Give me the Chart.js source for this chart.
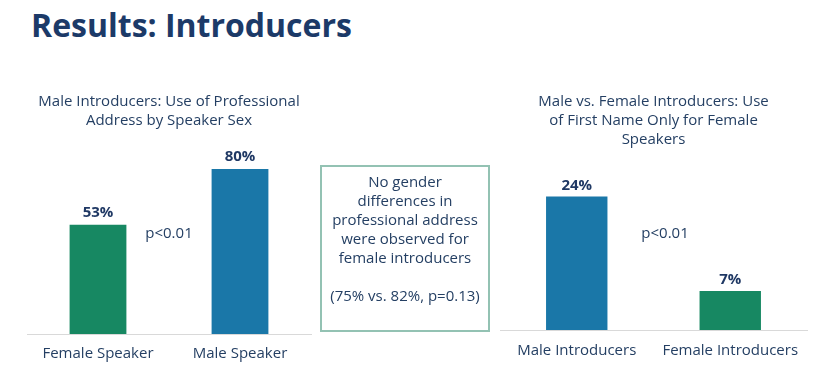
<!DOCTYPE html>
<html>
<head>
<meta charset="utf-8">
<script src="https://cdn.jsdelivr.net/npm/chart.js@4.4.1/dist/chart.umd.min.js"></script>
<style>
  html, body { margin: 0; padding: 0; background: #ffffff; }
  body { width: 830px; height: 387px; position: relative; overflow: hidden; font-family: "Open Sans", sans-serif; }
  #title { position: absolute; left: 31px; top: 9px; font-size: 32px; line-height: 32px; font-weight: 700; color: #1c3a68; white-space: nowrap; }
  #leftWrap { position: absolute; left: 0px; top: 92px; width: 330px; height: 272px; }
  #rightWrap { position: absolute; left: 490px; top: 92px; width: 340px; height: 268px; }
  #note { position: absolute; left: 320px; top: 165px; width: 166px; height: 158px; border: 2px solid #93c2b3;
          color: #243f63; font-size: 15px; line-height: 19px; text-align: center; padding-top: 5px; box-sizing: content-box; }
</style>
</head>
<body>
<div id="title">Results: Introducers</div>
<div id="leftWrap"><canvas id="leftChart" width="330" height="272"></canvas></div>
<div id="note">No gender<br>differences in<br>professional address<br>were observed for<br>female introducers<br><br>(75% vs. 82%, p=0.13)</div>
<div id="rightWrap"><canvas id="rightChart" width="340" height="268"></canvas></div>
<script>
// ---- data ----
const leftTitle = ["Male Introducers: Use of Professional", "Address by Speaker Sex"];
const leftCategories = ["Female Speaker", "Male Speaker"];
const leftValues = [53, 80];
const leftPNote = "p<0.01";

const rightTitle = ["Male vs. Female Introducers: Use", "of First Name Only for Female", "Speakers"];
const rightCategories = ["Male Introducers", "Female Introducers"];
const rightValues = [24, 7];
const rightPNote = "p<0.01";

// ---- styling ----
const GREEN = "#178862";
const BLUE = "#1a77a8";
const NAVY = "#1f3864";
const TEXT = "#243f63";
const FONT = "'Open Sans', sans-serif";

Chart.defaults.font.family = FONT;
Chart.defaults.color = TEXT;

const valueLabelPlugin = {
  id: "valueLabels",
  afterDatasetsDraw(chart, args, opts) {
    const ctx = chart.ctx;
    const meta = chart.getDatasetMeta(0);
    const data = chart.data.datasets[0].data;
    ctx.save();
    ctx.font = "bold 15px " + FONT;
    ctx.fillStyle = NAVY;
    ctx.textAlign = "center";
    ctx.textBaseline = "middle";
    meta.data.forEach((bar, i) => {
      ctx.fillText(data[i] + "%", bar.x, bar.y - (opts.offset || 12));
    });
    ctx.restore();
  }
};

const pNotePlugin = {
  id: "pNote",
  afterDatasetsDraw(chart, args, opts) {
    if (!opts || !opts.text) return;
    const xs = chart.scales.x, ys = chart.scales.y;
    const x0 = xs.getPixelForValue(0), x1 = xs.getPixelForValue(1);
    const x = x0 + opts.frac * (x1 - x0);
    const y = ys.getPixelForValue(opts.value);
    const ctx = chart.ctx;
    ctx.save();
    ctx.font = "15px " + FONT;
    ctx.fillStyle = TEXT;
    ctx.textAlign = "center";
    ctx.textBaseline = "middle";
    ctx.fillText(opts.text, x, y);
    ctx.restore();
  }
};

function makeChart(id, title, cats, vals, colors, yMax, pad, titlePadBottom, tickPad, pText, pFrac, pValue, labelOffset) {
  return new Chart(document.getElementById(id), {
    type: "bar",
    data: {
      labels: cats,
      datasets: [{
        data: vals,
        backgroundColor: colors,
        borderWidth: 0,
        barPercentage: 0.4,
        categoryPercentage: 1.0
      }]
    },
    options: {
      responsive: false,
      animation: false,
      layout: { padding: pad },
      plugins: {
        legend: { display: false },
        tooltip: { enabled: false },
        title: {
          display: true,
          text: title,
          color: TEXT,
          font: { family: FONT, size: 15, weight: "normal", lineHeight: 1.27 },
          padding: { top: 0, bottom: titlePadBottom }
        },
        valueLabels: { offset: labelOffset },
        pNote: { text: pText, frac: pFrac, value: pValue }
      },
      scales: {
        x: {
          grid: { display: false, drawTicks: false },
          border: { display: true, color: "#d9d9d9", width: 1 },
          ticks: { color: TEXT, font: { family: FONT, size: 15 }, padding: tickPad, maxRotation: 0 },
          afterFit(scale) { scale.height = 30; }
        },
        y: {
          display: false,
          min: 0,
          max: yMax
        }
      }
    },
    plugins: [valueLabelPlugin, pNotePlugin]
  });
}

makeChart("leftChart", leftTitle, leftCategories, leftValues, [GREEN, BLUE], 96,
  { left: 27, right: 19, top: 0, bottom: 0 }, 6, 11, leftPNote, 0.5, 48.5, 12);

makeChart("rightChart", rightTitle, rightCategories, rightValues, [BLUE, GREEN], 32,
  { left: 10, right: 23, top: 0, bottom: 0 }, 3, 12, rightPNote, 0.575, 17.4, 11);
</script>
</body>
</html>
